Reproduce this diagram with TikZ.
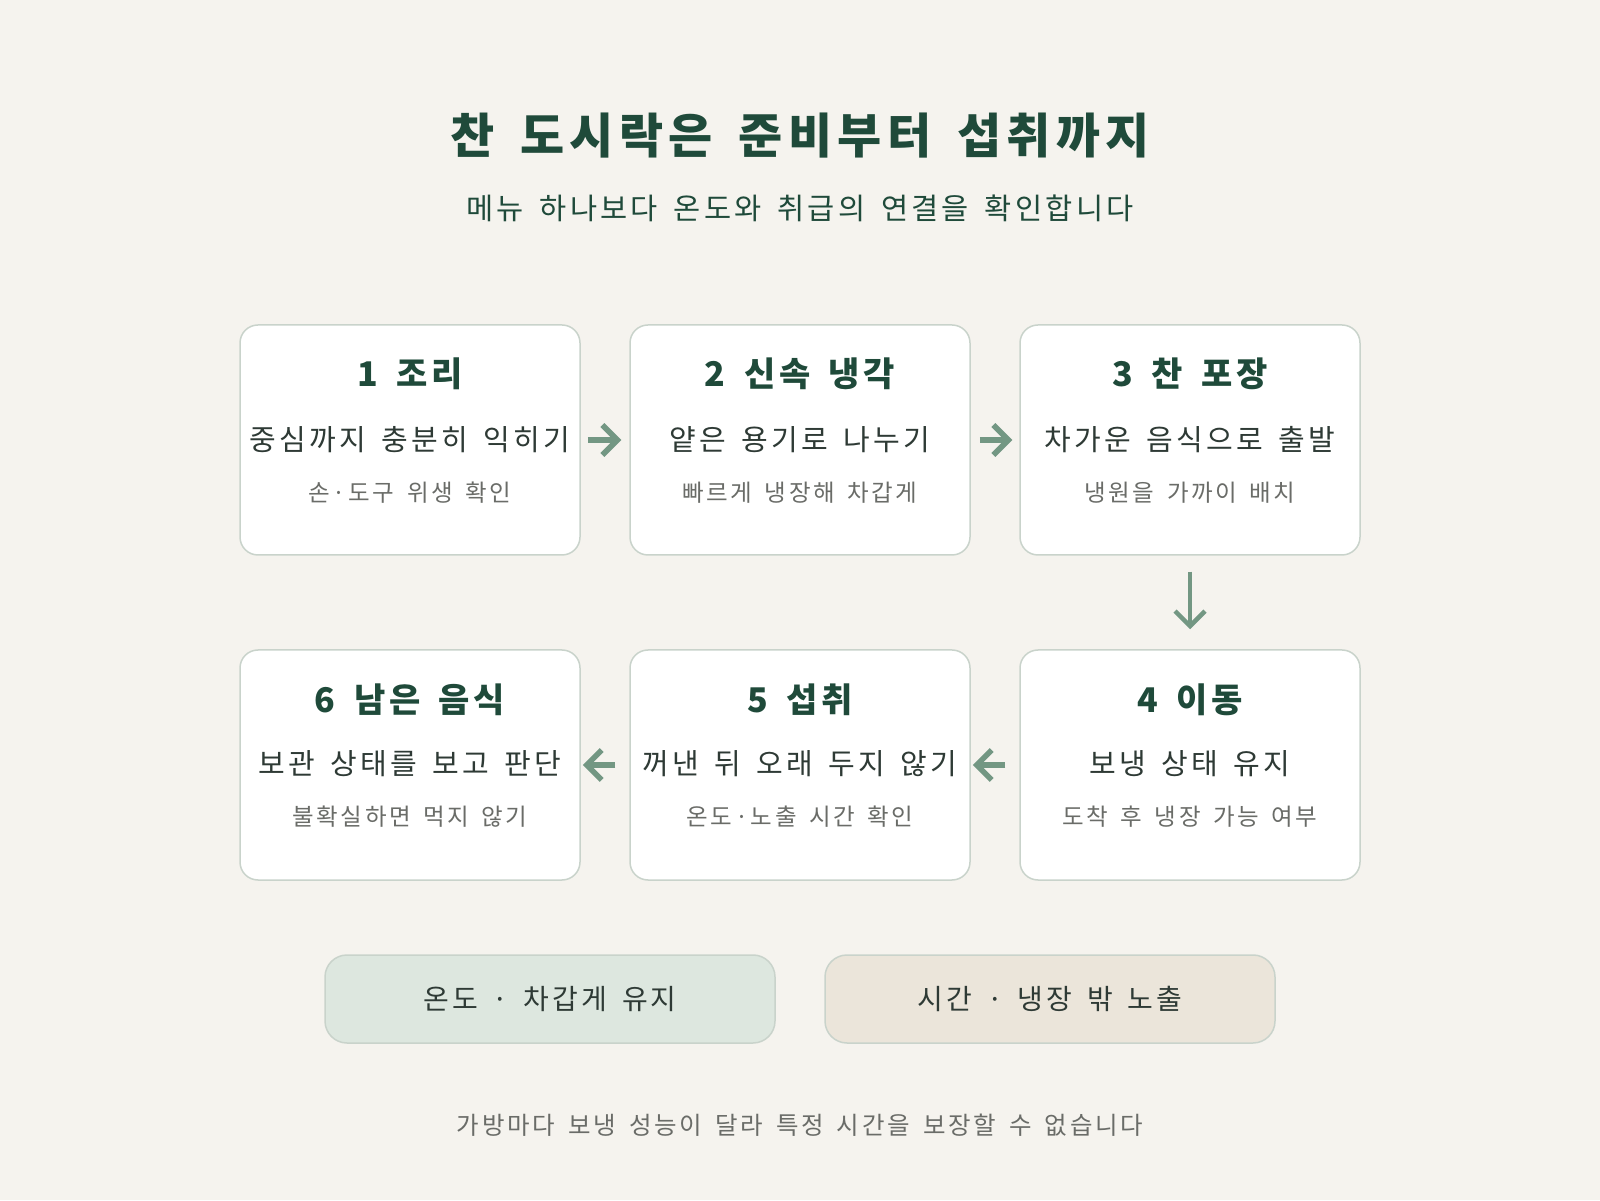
\documentclass[tikz,border=0pt]{standalone}
\usepackage{fontspec}
\setmainfont[LetterSpace=11,WordSpace=1.6]{Noto Sans CJK KR}
\usetikzlibrary{arrows.meta}

\definecolor{bgcol}{HTML}{F5F3EE}
\definecolor{boxline}{HTML}{C9D3CB}
\definecolor{titlecol}{HTML}{1F4A3A}
\definecolor{maincol}{HTML}{2E3A35}
\definecolor{subcol}{HTML}{6A6C68}
\definecolor{arrowcol}{HTML}{739783}
\definecolor{coolfill}{HTML}{DDE7DF}
\definecolor{warmfill}{HTML}{EBE5DA}

\begin{document}
\begin{tikzpicture}[x=1pt,y=1pt,
  stepbox/.style={draw=boxline,line width=1.5pt,fill=white,rounded corners=18pt,
    minimum width=340pt,minimum height=230pt},
  steptitle/.style={font=\fontsize{34}{40}\selectfont\bfseries,text=titlecol},
  stepmain/.style={font=\fontsize{29}{34}\selectfont,text=maincol},
  stepsub/.style={font=\fontsize{23.5}{28}\selectfont,text=subcol},
  flow/.style={draw=arrowcol,line width=5.5pt,-{Straight Barb[length=15pt,width=30pt]}},
  pill/.style={draw=boxline,line width=1.5pt,rounded corners=22pt,
    minimum width=450pt,minimum height=88pt,text=maincol,font=\fontsize{28}{34}\selectfont}]
  \fill[bgcol] (0,0) rectangle (1600,1200);
  \useasboundingbox (0,0) rectangle (1600,1200);

  \node[font=\fontsize{48}{56}\selectfont\bfseries,text=titlecol] (title) at (800,1064) {찬 도시락은 준비부터 섭취까지};
  \node[font=\fontsize{29.5}{36}\selectfont,text=titlecol] (subtitle) at (800,992) {메뉴 하나보다 온도와 취급의 연결을 확인합니다};

  % top row
  \node[stepbox] (s1) at (410,760) {};
  \node[stepbox] (s2) at (800,760) {};
  \node[stepbox] (s3) at (1190,760) {};
  % bottom row
  \node[stepbox] (s4) at (1190,435) {};
  \node[stepbox] (s5) at (800,435) {};
  \node[stepbox] (s6) at (410,435) {};

  \node[steptitle] (t1) at ([yshift=66]s1.center) {1 조리};
  \node[stepmain] (m1) at (s1.center) {중심까지 충분히 익히기};
  \node[stepsub] (u1) at ([yshift=-53]s1.center) {손·도구 위생 확인};

  \node[steptitle] (t2) at ([yshift=66]s2.center) {2 신속 냉각};
  \node[stepmain] (m2) at (s2.center) {얕은 용기로 나누기};
  \node[stepsub] (u2) at ([yshift=-53]s2.center) {빠르게 냉장해 차갑게};

  \node[steptitle] (t3) at ([yshift=66]s3.center) {3 찬 포장};
  \node[stepmain] (m3) at (s3.center) {차가운 음식으로 출발};
  \node[stepsub] (u3) at ([yshift=-53]s3.center) {냉원을 가까이 배치};

  \node[steptitle] (t4) at ([yshift=65]s4.center) {4 이동};
  \node[stepmain] (m4) at ([yshift=1]s4.center) {보냉 상태 유지};
  \node[stepsub] (u4) at ([yshift=-52]s4.center) {도착 후 냉장 가능 여부};

  \node[steptitle] (t5) at ([yshift=65]s5.center) {5 섭취};
  \node[stepmain] (m5) at ([yshift=1]s5.center) {꺼낸 뒤 오래 두지 않기};
  \node[stepsub] (u5) at ([yshift=-52]s5.center) {온도·노출 시간 확인};

  \node[steptitle] (t6) at ([yshift=65]s6.center) {6 남은 음식};
  \node[stepmain] (m6) at ([yshift=1]s6.center) {보관 상태를 보고 판단};
  \node[stepsub] (u6) at ([yshift=-52]s6.center) {불확실하면 먹지 않기};

  \draw[flow,shorten <=7pt,shorten >=8pt] (s1) -- (s2);
  \draw[flow,shorten <=9pt,shorten >=7pt] (s2) -- (s3);
  \draw[flow,line width=4.5pt,shorten <=16pt,shorten >=20pt] (s3) -- (s4);
  \draw[flow,shorten <=14pt,shorten >=2pt] (s4) -- (s5);
  \draw[flow,shorten <=14pt,shorten >=2pt] (s5) -- (s6);

  \node[pill,fill=coolfill] (temp) at (550,201) {온도 · 차갑게 유지};
  \node[pill,fill=warmfill] (time) at (1050,201) {시간 · 냉장 밖 노출};

  \node[font=\fontsize{24.5}{30}\selectfont,text=subcol] (note) at (800,75) {가방마다 보냉 성능이 달라 특정 시간을 보장할 수 없습니다};
\end{tikzpicture}
\end{document}
